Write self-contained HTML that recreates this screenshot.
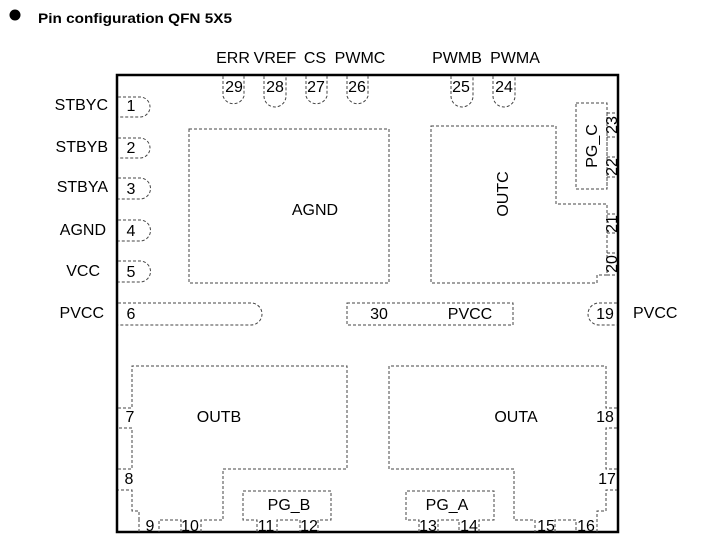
<!DOCTYPE html>
<html><head><meta charset="utf-8"><style>
html,body{margin:0;padding:0;background:#fff;}
svg{display:block;}
text{font-family:"Liberation Sans",Arial,sans-serif;fill:#000;}
</style></head><body>
<svg width="705" height="556" viewBox="0 0 705 556" xmlns="http://www.w3.org/2000/svg">
<circle cx="15" cy="15" r="5.5" fill="#000"/>
<text x="38" y="23" font-size="14" font-weight="bold" textLength="194" lengthAdjust="spacingAndGlyphs">Pin configuration QFN 5X5</text>
<g font-size="16" text-anchor="middle">
<text x="233" y="63">ERR</text><text x="275" y="63">VREF</text><text x="315" y="63">CS</text><text x="360" y="63">PWMC</text>
<text x="457" y="63">PWMB</text><text x="515" y="63">PWMA</text>
</g>
<g font-size="16" text-anchor="end">
<text x="108" y="110">STBYC</text><text x="108" y="152">STBYB</text><text x="108" y="192">STBYA</text>
<text x="106" y="235">AGND</text><text x="100" y="276">VCC</text><text x="104" y="318">PVCC</text>
</g>
<text x="633" y="318" font-size="16">PVCC</text>
<rect x="117" y="75" width="501" height="457" fill="none" stroke="#000" stroke-width="2.5"/>
<g fill="none" stroke="#444" stroke-width="1" stroke-dasharray="3,2">
<path d="M118 97 H140 A10 10 0 0 1 140 117 H118"/>
<path d="M118 138 H140 A10 10 0 0 1 140 158 H118"/>
<path d="M118 178 H140 A10 10 0 0 1 140 199 H118"/>
<path d="M118 220 H140 A10 10 0 0 1 140 241 H118"/>
<path d="M118 261 H140 A10 10 0 0 1 140 282 H118"/>
<path d="M118 303 H251 A11 11 0 0 1 251 325 H118"/>
<path d="M223 76 V96 A11 11 0 0 0 244 96 V76"/>
<path d="M264 76 V96 A11 11 0 0 0 286 96 V76"/>
<path d="M306 76 V96 A11 11 0 0 0 327 96 V76"/>
<path d="M347 76 V96 A11 11 0 0 0 368 96 V76"/>
<path d="M451 76 V96 A11 11 0 0 0 473 96 V76"/>
<path d="M493 76 V96 A11 11 0 0 0 515 96 V76"/>
<rect x="189" y="129" width="200" height="154"/>
<path d="M431 126 H556 V204 H607 V275 H597 V283 H431 Z"/>
<rect x="576" y="103" width="31" height="86"/>
<path d="M607 113 H617 M607 137 H617 M607 157 H617 M607 177 H617 M607 214 H617 M607 233 H617 M607 253 H617 M607 275 H617 M607 113 V189"/>
<rect x="347" y="303" width="166" height="22"/>
<path d="M617 303 H599 A11 11 0 0 0 599 325 H617"/>
<path d="M118 408 H132 V366 H347 V469 H223 V520 H201 V532 M181 532 V520 H159 V532 M139 532 V520 M139 520 V511 H132 V490 H118 M118 469 H132 V428 H118"/>
<path d="M257 532 V520 H243 V491 H331 V520 H318 V532 M277 532 V520 H300 V532"/>
<path d="M419 532 V520 H406 V491 H494 V520 H479 V532 M438 532 V520 H459 V532"/>
<path d="M617 408 H606 V366 H389 V469 H514 V520 H535 V532 M555 532 V520 H576 V532 M597 532 V511 H606 V490 H617 M617 469 H606 V428 H617"/>
</g>
<g font-size="16" text-anchor="middle">
<text x="131" y="111">1</text><text x="131" y="153">2</text><text x="131" y="194">3</text><text x="131" y="236">4</text><text x="131" y="277">5</text><text x="131" y="319">6</text>
<text x="234" y="92">29</text><text x="275" y="92">28</text><text x="316" y="92">27</text><text x="357" y="92">26</text><text x="461" y="92">25</text><text x="504" y="92">24</text>
<text x="315" y="215">AGND</text>
<text x="379" y="319">30</text><text x="470" y="319">PVCC</text>
<text x="605" y="319">19</text>
<text x="130" y="422">7</text><text x="129" y="484">8</text>
<text x="219" y="422">OUTB</text><text x="516" y="422">OUTA</text>
<text x="605" y="422">18</text><text x="607" y="484">17</text>
<text x="289" y="510">PG_B</text><text x="447" y="510">PG_A</text>
<text x="150" y="531">9</text><text x="190" y="531">10</text><text x="266" y="531">11</text><text x="309" y="531">12</text>
<text x="428" y="531">13</text><text x="469" y="531">14</text><text x="546" y="531">15</text><text x="586" y="531">16</text>
</g>
<g font-size="16" text-anchor="middle">
<text transform="translate(508,194) rotate(-90)">OUTC</text>
<text transform="translate(597,146) rotate(-90)">PG_C</text>
<text transform="translate(617,125) rotate(-90)">23</text>
<text transform="translate(617,167) rotate(-90)">22</text>
<text transform="translate(617,224) rotate(-90)">21</text>
<text transform="translate(617,264) rotate(-90)">20</text>
</g>
</svg>
</body></html>
